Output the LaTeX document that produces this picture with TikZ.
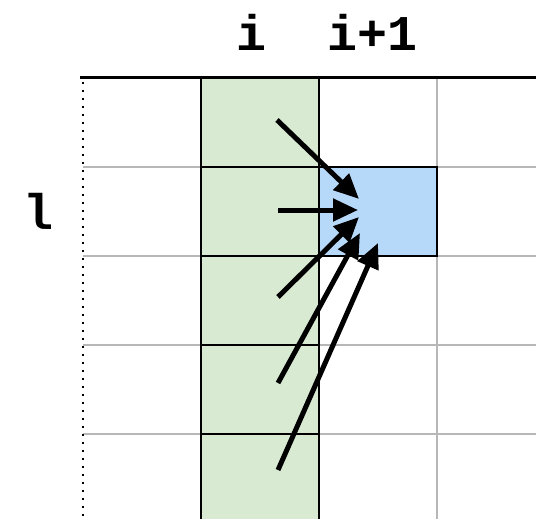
\documentclass[tikz,border=0pt]{standalone}
\usepackage{fontspec}
\newfontfamily\monob{Liberation Mono}
\usetikzlibrary{arrows.meta}
\definecolor{cgreen}{HTML}{D9EAD3}
\definecolor{cblue}{HTML}{B7D9F9}
\definecolor{cgrid}{HTML}{B7B7B7}
\tikzset{
  gridline/.style={draw=cgrid, line width=2.5pt},
  blackline/.style={draw=black, line width=2pt},
  lbl/.style={font=\monob\bfseries\fontsize{50}{50}\selectfont, anchor=base, inner sep=0pt},
  flow/.style={line width=5pt, -{Triangle[length=25pt,width=22pt]}}
}
\begin{document}
\begin{tikzpicture}[x=1pt,y=-1pt]
\useasboundingbox (0,0) rectangle (536,519);
% green column
\fill[cgreen] (201,78) rectangle (319,519);
% blue cell
\fill[cblue] (319,167) rectangle (437,256);
% gray grid
\foreach \yy in {167,256,345,434} {
  \draw[gridline] (83,\yy) -- (201,\yy);
  \draw[gridline] (319,\yy) -- (536,\yy);
}
\draw[gridline] (437,78) -- (437,519);
% green column borders
\draw[blackline] (201,78) -- (201,519);
\draw[blackline] (319,78) -- (319,519);
\foreach \yy in {167,256,345,434} {
  \draw[blackline] (201,\yy) -- (319,\yy);
}
% blue cell border
\draw[blackline] (319,167) rectangle (437,256);
% top line
\draw[line width=3pt] (80,78) -- (536,78);
% dotted left line
\draw[line width=2pt, dash pattern=on 2pt off 6pt] (83,82) -- (83,519);
% labels
\node[lbl] (li) at (252,51) {i};
\node[lbl] (lip) at (373,51) {i+1};
\node[lbl] (ll) at (39,229) {l};
% arrows
\coordinate (s1) at (277,120);
\coordinate (s2) at (278,210);
\coordinate (s3) at (278,297);
\coordinate (s4) at (278,383);
\coordinate (s5) at (278,470);
\coordinate (t1) at (359,199);
\coordinate (t2) at (358,210);
\coordinate (t3) at (359,217);
\coordinate (t4) at (360,233);
\coordinate (t5) at (378,243);
\draw[flow] (s1) -- (t1);
\draw[flow] (s2) -- (t2);
\draw[flow] (s3) -- (t3);
\draw[flow] (s4) -- (t4);
\draw[flow] (s5) -- (t5);
\end{tikzpicture}
\end{document}
